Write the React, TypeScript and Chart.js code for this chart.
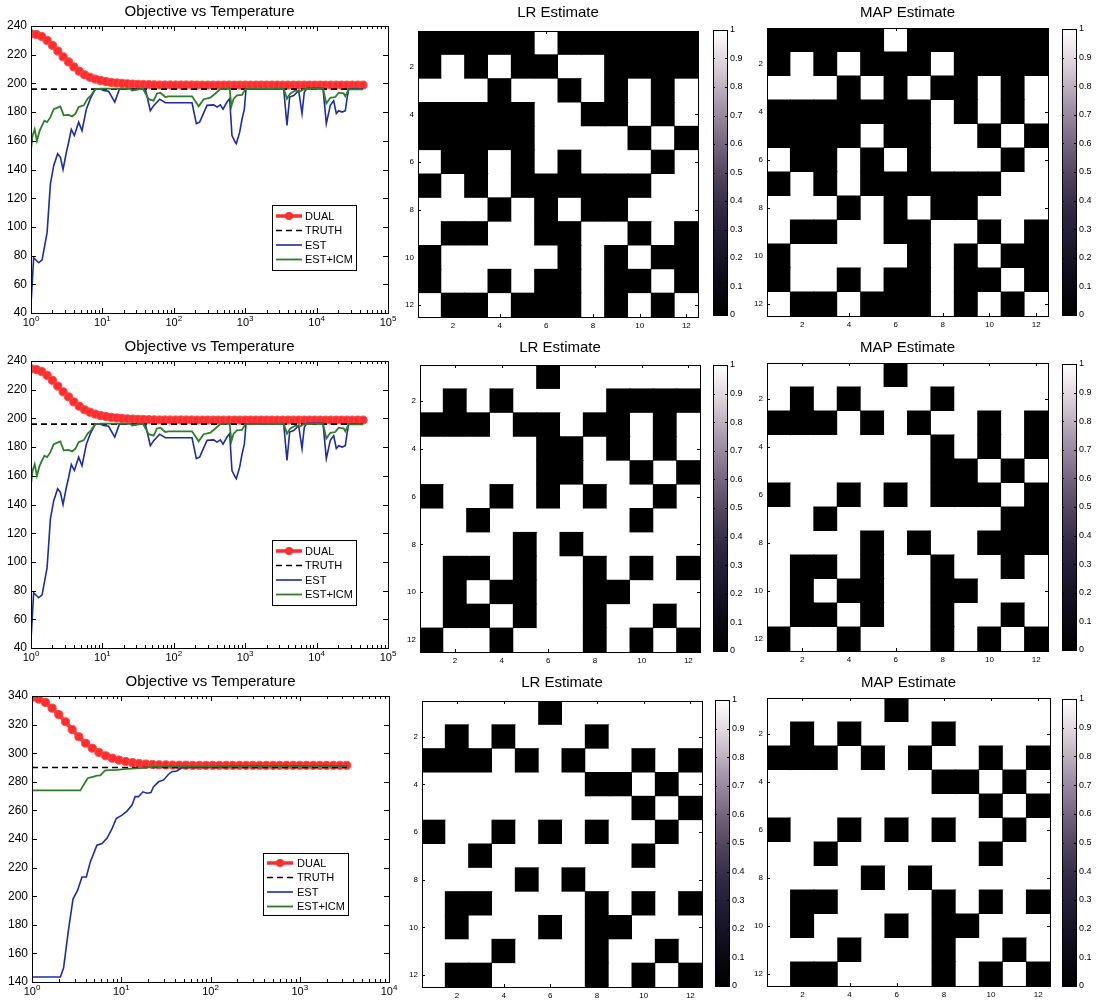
import React, { useEffect, useRef } from 'react';
import { Chart, registerables } from 'chart.js';

Chart.register(...registerables);

const FONT = "'Liberation Sans', Arial, Helvetica, sans-serif";
Chart.defaults.font.family = FONT;
Chart.defaults.color = '#000';

// ---------------- line charts (rows 1 and 2 share the same data) ----------------
const tempsA = [1, 1.189, 1.413, 1.679, 1.995, 2.371, 2.818, 3.35, 3.981, 4.732, 5.623, 6.683, 7.943, 9.441, 11.22, 13.34, 15.85, 18.84, 22.39, 26.61, 31.62, 37.58, 44.67, 53.09, 63.1, 74.99, 89.13, 105.9, 125.9, 149.6, 177.8, 211.3, 251.2, 298.5, 354.8, 421.7, 501.2, 595.7, 707.9, 841.4, 1000, 1189, 1413, 1679, 1995, 2371, 2818, 3350, 3981, 4732, 5623, 6683, 7943, 9441, 11220, 13340, 15850, 18840, 22390, 26610, 31620, 37580, 44670];
const dualA = [234.5, 234, 232.7, 230, 226.5, 222.5, 218.5, 215, 211.5, 208.5, 206, 204.3, 203, 202, 201.3, 200.7, 200.3, 200, 199.7, 199.5, 199.3, 199.2, 199.1, 199, 198.9, 198.9, 198.9, 198.9, 198.9, 198.9, 198.9, 198.8, 198.8, 198.8, 198.8, 198.8, 198.8, 198.8, 198.8, 198.8, 198.8, 198.8, 198.8, 198.8, 198.8, 198.8, 198.8, 198.8, 198.8, 198.8, 198.8, 198.8, 198.8, 198.8, 198.8, 198.8, 198.8, 198.8, 198.8, 198.8, 198.8, 198.8, 198.8];
const truthA = 196;
const estTA = [1, 1.09, 1.28, 1.43, 1.68, 1.87, 2.08, 2.36, 2.58, 2.81, 3.13, 3.37, 3.67, 4.05, 4.65, 5.18, 5.96, 6.78, 7.96, 9.35, 10.4, 12.2, 14.9, 17.3, 22.1, 24.6, 26.0, 34.0, 39.9, 46.9, 52.2, 63.4, 76.1, 84.8, 180, 207, 230, 292, 362, 403, 449, 489, 556, 606, 653, 728, 751, 837, 902, 973, 1026, 3459, 3847, 4196, 4773, 5610, 6250, 6730, 7340, 12300, 13680, 15560, 17340, 18880, 20370, 22690, 25250, 26670, 28120, 44670];
const estVA = [46, 78.5, 75, 77, 96, 130, 142.7, 151, 148.5, 140, 152, 159, 168, 163.7, 173, 167, 182, 189.4, 196, 196, 195, 194.5, 187, 196, 196.3, 196.3, 195.3, 196.3, 196.3, 181, 184.5, 189, 186.5, 186.5, 186.5, 172, 173, 184.7, 185, 183.5, 185, 182, 187, 189.4, 163.7, 159, 158, 166, 175, 182, 196, 196.3, 170.7, 190.5, 191.5, 195, 179, 194, 196.5, 196.5, 172, 184.7, 188, 179, 181, 180, 181, 189.4, 196, 196];
const icmTA = [1, 1.055, 1.126, 1.21, 1.32, 1.43, 1.54, 1.68, 1.87, 2.08, 2.44, 2.58, 2.87, 3.37, 3.75, 4.18, 4.65, 5.47, 6.22, 6.92, 7.96, 9.35, 24.6, 26.0, 37.0, 44.5, 52.2, 58.2, 64.8, 76.1, 84.8, 180, 223, 262, 325, 382, 449, 606, 640, 689, 768, 902, 1004, 3459, 3847, 4287, 5036, 5919, 6590, 12300, 13680, 15560, 18290, 20370, 23930, 25250, 28120, 44670];
const icmVA = [154, 163.7, 168, 160, 167, 170.7, 174, 173, 176.5, 182, 183.5, 184, 177.7, 178, 177, 178.8, 183.5, 184.7, 189.4, 191.7, 196, 196.3, 196.3, 195, 196.3, 189, 188, 193, 193.5, 190.5, 191, 191, 184, 189, 190, 193, 196, 196.3, 184, 189.4, 191.7, 192, 196, 196.3, 189.4, 193, 195, 194.5, 196, 196.3, 186, 190, 190.5, 193.5, 193, 191, 195.8, 195.8];
const yTicksA = [40, 60, 80, 100, 120, 140, 160, 180, 200, 220, 240];
const decadesA = [1, 10, 100, 1000, 10000, 100000];

// ---------------- line chart row 3 ----------------
const tempsC = [1, 1.189, 1.413, 1.679, 1.995, 2.371, 2.818, 3.35, 3.981, 4.732, 5.623, 6.683, 7.943, 9.441, 11.22, 13.34, 15.85, 18.84, 22.39, 26.61, 31.62, 37.58, 44.67, 53.09, 63.1, 74.99, 89.13, 105.9, 125.9, 149.6, 177.8, 211.3, 251.2, 298.5, 354.8, 421.7, 501.2, 595.7, 707.9, 841.4, 1000, 1189, 1413, 1679, 1995, 2371, 2818, 3350];
const dualC = [339, 337.8, 335.5, 331.5, 327, 322, 316.5, 311.5, 307, 303.5, 300.5, 298.2, 296.5, 295.2, 294.2, 293.4, 292.8, 292.4, 292.1, 291.9, 291.8, 291.7, 291.6, 291.6, 291.5, 291.5, 291.5, 291.5, 291.5, 291.5, 291.5, 291.5, 291.5, 291.5, 291.5, 291.5, 291.5, 291.5, 291.5, 291.5, 291.5, 291.5, 291.5, 291.5, 291.5, 291.5, 291.5, 291.5];
const truthC = 290;
const estTC = [1, 2.08, 2.26, 2.57, 2.88, 3.24, 3.63, 4.06, 4.5, 5.34, 6.08, 6.91, 7.86, 8.79, 10.2, 11.6, 13.2, 14.3, 15.6, 17.5, 19.4, 21.5, 23.0, 26.2, 29.8, 33.9, 36.9, 42.0, 47.8, 181, 3350];
const estVC = [143.5, 143.5, 150, 177, 198, 204, 213.4, 213.4, 224, 235.7, 236.9, 240.5, 247, 254.3, 256.7, 259.5, 263.7, 269.6, 269.6, 273, 272, 272.5, 276.6, 280, 281.3, 285.3, 287.1, 287.6, 290, 290.8, 291];
const icmTC = [1, 3.48, 4.2, 4.9, 5.34, 5.82, 6.62, 8.94, 11.6, 16.3, 23.0, 32.4, 3350];
const icmVC = [274, 274, 282.5, 283.6, 284.3, 284.5, 288, 288.4, 289.1, 289.6, 290.5, 290.8, 291];
const yTicksC = [140, 160, 180, 200, 220, 240, 260, 280, 300, 320, 340];
const decadesC = [1, 10, 100, 1000, 10000];

const legendLabels = ['DUAL', 'TRUTH', 'EST', 'EST+ICM'];

// ---------------- heat maps (1 = white, 0 = black) ----------------
const cellCols = [1, 2, 3, 4, 5, 6, 7, 8, 9, 10, 11, 12];
const heatTicks = [2, 4, 6, 8, 10, 12];

const lrGrid1 = [
  [0,0,0,0,0,1,0,0,0,0,0,0],
  [0,1,0,1,0,0,1,1,0,0,0,0],
  [1,1,1,0,1,1,0,1,0,1,0,1],
  [0,0,0,0,0,1,1,0,0,1,0,1],
  [0,0,0,0,0,1,1,1,1,0,1,0],
  [1,0,0,1,0,1,0,1,1,1,0,1],
  [0,1,0,1,0,0,0,0,0,0,1,1],
  [1,1,1,0,1,0,1,0,0,1,1,1],
  [1,0,0,1,1,0,0,1,1,0,1,0],
  [0,1,1,1,1,1,0,1,0,1,0,0],
  [0,1,1,0,1,0,0,1,0,0,1,0],
  [1,0,0,1,0,0,0,1,0,1,0,1],
];
const mapGrid1 = [
  [0,0,0,0,0,1,0,0,0,0,0,0],
  [0,1,0,1,0,0,0,1,0,0,0,0],
  [1,1,1,0,1,0,1,0,0,1,0,1],
  [0,0,0,0,0,0,0,1,0,1,0,1],
  [0,0,0,0,1,0,0,1,1,0,1,0],
  [1,0,0,1,0,1,0,1,1,1,0,1],
  [0,1,0,1,0,0,0,0,0,0,1,1],
  [1,1,1,0,1,0,1,0,0,1,1,1],
  [1,0,0,1,1,0,0,1,1,0,1,0],
  [0,1,1,1,1,1,0,1,0,1,0,0],
  [0,1,1,0,1,0,0,1,0,0,1,0],
  [1,0,0,1,0,0,0,1,0,1,0,1],
];
const lrGrid2 = [
  [1,1,1,1,1,0,1,1,1,1,1,1],
  [1,0,1,0,1,1,1,1,0,0,0,0],
  [0,0,0,1,0,0,1,0,0,1,0,1],
  [1,1,1,1,1,0,0,1,0,1,0,1],
  [1,1,1,1,1,0,0,1,1,0,1,0],
  [0,1,1,0,1,0,1,0,1,1,0,1],
  [1,1,0,1,1,1,1,1,1,0,1,1],
  [1,1,1,1,0,1,0,1,1,1,1,1],
  [1,0,0,1,0,1,1,0,1,0,1,0],
  [1,0,1,0,0,1,1,0,0,1,1,1],
  [1,0,0,1,0,1,1,0,1,1,0,1],
  [0,1,1,0,1,1,1,0,1,0,1,0],
];
const mapGrid2 = [
  [1,1,1,1,1,0,1,1,1,1,1,1],
  [1,0,1,0,1,1,1,0,1,1,1,1],
  [0,0,0,1,0,1,0,1,1,0,1,0],
  [1,1,1,1,1,1,1,0,1,0,1,0],
  [1,1,1,1,1,1,1,0,0,1,0,1],
  [0,1,1,0,1,0,1,0,0,0,1,0],
  [1,1,0,1,1,1,1,1,1,1,0,0],
  [1,1,1,1,0,1,0,1,1,0,0,0],
  [1,0,0,1,0,1,1,0,1,1,0,1],
  [1,0,1,0,0,1,1,0,0,1,1,1],
  [1,0,0,1,0,1,1,0,1,1,0,1],
  [0,1,1,0,1,1,1,0,1,0,1,0],
];
const lrGrid3 = [
  [1,1,1,1,1,0,1,1,1,1,1,1],
  [1,0,1,0,1,1,1,0,1,1,1,1],
  [0,0,0,1,0,1,0,1,1,0,1,0],
  [1,1,1,1,1,1,1,0,0,1,0,1],
  [1,1,1,1,1,1,1,1,1,0,1,0],
  [0,1,1,0,1,0,1,0,1,1,0,1],
  [1,1,0,1,1,1,1,1,1,0,1,1],
  [1,1,1,1,0,1,0,1,1,1,1,1],
  [1,0,0,1,1,1,1,0,1,0,1,0],
  [1,0,1,1,1,0,1,0,0,1,1,1],
  [1,1,1,0,1,1,1,0,1,1,0,1],
  [1,0,0,1,1,1,1,0,1,0,1,0],
];
const mapGrid3 = [
  [1,1,1,1,1,0,1,1,1,1,1,1],
  [1,0,1,0,1,1,1,0,1,1,1,1],
  [0,0,0,1,0,1,0,1,1,0,1,0],
  [1,1,1,1,1,1,1,0,0,1,0,1],
  [1,1,1,1,1,1,1,1,1,0,1,0],
  [0,1,1,0,1,0,1,0,1,1,0,1],
  [1,1,0,1,1,1,1,1,1,0,1,1],
  [1,1,1,1,0,1,0,1,1,1,1,1],
  [1,0,0,1,1,1,1,0,1,0,1,0],
  [1,0,1,1,1,0,1,0,0,1,1,1],
  [1,1,1,0,1,1,1,0,1,1,0,1],
  [1,0,0,1,1,1,1,0,1,0,1,0],
];

// ---------------- colour bar ----------------
const cbRange = [0, 1];
const cbTicks = [0, 0.1, 0.2, 0.3, 0.4, 0.5, 0.6, 0.7, 0.8, 0.9, 1];
const cbLabels = ['0', '0.1', '0.2', '0.3', '0.4', '0.5', '0.6', '0.7', '0.8', '0.9', '1'];
const cbStops: [number, string][] = [
  [0, '#000000'], [0.12, '#0c0a16'], [0.25, '#1d1930'], [0.37, '#302845'], [0.5, '#54475f'],
  [0.62, '#7c6c86'], [0.75, '#aa9caf'], [0.87, '#d9cfd7'], [1, '#ffffff'],
];

const RED = '#ff2e2e';
const BLUE = '#1f2c9c';
const GREEN = '#2f7d2c';
const BLACK = '#000000';

type Rect = { l: number; t: number; r: number; b: number };

function pad(w: number, h: number, p: Rect, leftW: number, rightW: number, bottomH: number) {
  return { left: p.l - leftW, right: w - p.r - rightW, top: p.t, bottom: h - p.b - bottomH };
}

function crisp(v: number) {
  return Math.round(v) + 0.5;
}

const baseOpts = {
  responsive: false,
  animation: false,
  events: [],
  devicePixelRatio: 1,
};

type LegendSpec = { x: number; y: number; w: number; h: number; rows: number[]; s0: number; s1: number; tx: number };

function lineFrame(title: string, decades: number[], minors: number[], yTicks: number[], lg: LegendSpec) {
  return {
    id: 'lineFrame',
    afterDraw(chart: any) {
      const { ctx, chartArea: a } = chart;
      const xs = chart.scales.x;
      const ys = chart.scales.y;
      ctx.save();
      ctx.strokeStyle = BLACK;
      ctx.lineWidth = 1;
      ctx.setLineDash([]);
      ctx.beginPath();
      minors.forEach((v) => {
        const px = crisp(xs.getPixelForValue(v));
        const len = decades.includes(v) ? 5 : 3;
        ctx.moveTo(px, a.bottom);
        ctx.lineTo(px, a.bottom - len);
        ctx.moveTo(px, a.top);
        ctx.lineTo(px, a.top + len);
      });
      yTicks.forEach((v) => {
        const py = crisp(ys.getPixelForValue(v));
        ctx.moveTo(a.left, py);
        ctx.lineTo(a.left + 5, py);
        ctx.moveTo(a.right, py);
        ctx.lineTo(a.right - 5, py);
      });
      ctx.stroke();
      ctx.strokeRect(crisp(a.left), crisp(a.top), Math.round(a.right - a.left), Math.round(a.bottom - a.top));

      // x tick labels 10^n
      ctx.fillStyle = BLACK;
      ctx.textAlign = 'left';
      ctx.textBaseline = 'alphabetic';
      decades.forEach((v) => {
        const px = xs.getPixelForValue(v);
        const e = String(Math.round(Math.log10(v)));
        ctx.font = `11px ${FONT}`;
        const w1 = ctx.measureText('10').width;
        ctx.font = `8px ${FONT}`;
        const w2 = ctx.measureText(e).width;
        const st = px - (w1 + w2) / 2;
        ctx.font = `11px ${FONT}`;
        ctx.fillText('10', st, a.bottom + 13);
        ctx.font = `8px ${FONT}`;
        ctx.fillText(e, st + w1, a.bottom + 8);
      });

      // title
      ctx.font = `15px ${FONT}`;
      ctx.textAlign = 'center';
      ctx.textBaseline = 'middle';
      ctx.fillText(title, (a.left + a.right) / 2, 12);

      // legend
      ctx.fillStyle = '#ffffff';
      ctx.fillRect(lg.x, lg.y, lg.w, lg.h);
      ctx.strokeStyle = BLACK;
      ctx.lineWidth = 1;
      ctx.strokeRect(crisp(lg.x), crisp(lg.y), lg.w, lg.h);
      const styles = [
        { c: RED, w: 3.5, dash: [] as number[], m: true },
        { c: BLACK, w: 1.6, dash: [6, 4], m: false },
        { c: BLUE, w: 1.6, dash: [], m: false },
        { c: GREEN, w: 1.8, dash: [], m: false },
      ];
      legendLabels.forEach((lab, i) => {
        const y = lg.rows[i];
        const st = styles[i];
        ctx.strokeStyle = st.c;
        ctx.lineWidth = st.w;
        ctx.setLineDash(st.dash);
        ctx.beginPath();
        ctx.moveTo(lg.s0, y);
        ctx.lineTo(lg.s1, y);
        ctx.stroke();
        ctx.setLineDash([]);
        if (st.m) {
          ctx.fillStyle = st.c;
          ctx.beginPath();
          ctx.arc((lg.s0 + lg.s1) / 2, y, 4, 0, Math.PI * 2);
          ctx.fill();
        }
        ctx.fillStyle = BLACK;
        ctx.font = `11px ${FONT}`;
        ctx.textAlign = 'left';
        ctx.textBaseline = 'middle';
        ctx.fillText(lab, lg.tx, y + 0.5);
      });
      ctx.restore();
    },
  };
}

function lineConfig(o: {
  w: number; h: number; plot: Rect; temps: number[]; dual: number[]; truth: number;
  estT: number[]; estV: number[]; icmT: number[]; icmV: number[]; yTicks: number[]; decades: number[]; legend: LegendSpec;
}) {
  const yW = 28;
  const xH = 18;
  const minors: number[] = [];
  o.decades.forEach((d, i) => {
    if (i < o.decades.length - 1) {
      for (let m = 1; m <= 9; m++) minors.push(m * d);
    } else {
      minors.push(d);
    }
  });
  const last = o.temps.length - 1;
  return {
    type: 'line',
    data: {
      datasets: [
        {
          label: 'EST+ICM', data: o.icmT.map((t, i) => ({ x: t, y: o.icmV[i] })),
          borderColor: GREEN, borderWidth: 1.8, pointRadius: 0, tension: 0, order: 1,
        },
        {
          label: 'EST', data: o.estT.map((t, i) => ({ x: t, y: o.estV[i] })),
          borderColor: BLUE, borderWidth: 1.6, pointRadius: 0, tension: 0, order: 2,
        },
        {
          label: 'TRUTH', data: [{ x: o.temps[0], y: o.truth }, { x: o.temps[last], y: o.truth }],
          borderColor: BLACK, borderWidth: 1.6, borderDash: [6, 4], pointRadius: 0, tension: 0, order: 3,
        },
        {
          label: 'DUAL', data: o.temps.map((t, i) => ({ x: t, y: o.dual[i] })),
          borderColor: RED, borderWidth: 4, pointRadius: 4.1, pointBackgroundColor: RED,
          pointBorderColor: '#ff4a4a', pointBorderWidth: 1, tension: 0, order: 4,
        },
      ],
    },
    options: {
      ...baseOpts,
      layout: { padding: pad(o.w, o.h, o.plot, yW, 0, xH) },
      plugins: { legend: { display: false }, tooltip: { enabled: false }, title: { display: false } },
      scales: {
        x: {
          type: 'logarithmic', min: o.decades[0], max: o.decades[o.decades.length - 1],
          grid: { display: false, drawTicks: false }, border: { display: false },
          ticks: { display: false },
          afterBuildTicks: (s: any) => { s.ticks = minors.map((v) => ({ value: v })); },
          afterFit: (s: any) => { s.height = xH; },
        },
        y: {
          type: 'linear', min: o.yTicks[0], max: o.yTicks[o.yTicks.length - 1],
          grid: { display: false, drawTicks: false }, border: { display: false },
          ticks: { font: { size: 12, family: FONT }, color: BLACK, padding: 4 },
          afterBuildTicks: (s: any) => { s.ticks = o.yTicks.map((v) => ({ value: v })); },
          afterFit: (s: any) => { s.width = yW; },
        },
      },
    },
    plugins: [lineFrame('Objective vs Temperature', o.decades, minors, o.yTicks, o.legend)],
  };
}

function heatFrame(title: string, titleY: number) {
  return {
    id: 'heatFrame',
    afterDraw(chart: any) {
      const { ctx, chartArea: a } = chart;
      const xs = chart.scales.x;
      const ys = chart.scales.y;
      ctx.save();
      ctx.strokeStyle = BLACK;
      ctx.lineWidth = 1;
      ctx.beginPath();
      heatTicks.forEach((v) => {
        const px = crisp(xs.getPixelForValue(cellCols.indexOf(v)));
        ctx.moveTo(px, a.bottom);
        ctx.lineTo(px, a.bottom - 3);
        ctx.moveTo(px, a.top);
        ctx.lineTo(px, a.top + 3);
        const py = crisp(ys.getPixelForValue(v));
        ctx.moveTo(a.left, py);
        ctx.lineTo(a.left + 3, py);
        ctx.moveTo(a.right, py);
        ctx.lineTo(a.right - 3, py);
      });
      ctx.stroke();
      ctx.strokeRect(crisp(a.left), crisp(a.top), Math.round(a.right - a.left), Math.round(a.bottom - a.top));
      ctx.fillStyle = BLACK;
      ctx.font = `15px ${FONT}`;
      ctx.textAlign = 'center';
      ctx.textBaseline = 'middle';
      ctx.fillText(title, (a.left + a.right) / 2, titleY);
      ctx.restore();
    },
  };
}

function heatConfig(w: number, h: number, plot: Rect, grid: number[][], title: string) {
  const yW = 22;
  const xH = 16;
  return {
    type: 'bar',
    data: {
      labels: cellCols.map(String),
      datasets: grid.map((row, r) => ({
        data: cellCols.map(() => [cellCols[r] - 0.5, cellCols[r] + 0.5]),
        backgroundColor: row.map((v) => (v ? '#ffffff' : '#000000')),
        inflateAmount: (c: any) => (row[c.dataIndex] ? 0 : 0.5),
        borderWidth: 0,
        barPercentage: 1,
        categoryPercentage: 1,
        grouped: false,
        order: row.length + 1 - r,
      })),
    },
    options: {
      ...baseOpts,
      layout: { padding: pad(w, h, plot, yW, 0, xH) },
      plugins: { legend: { display: false }, tooltip: { enabled: false } },
      scales: {
        x: {
          type: 'category', offset: true,
          grid: { display: false, drawTicks: false }, border: { display: false },
          ticks: {
            autoSkip: false, maxRotation: 0, minRotation: 0, font: { size: 8, family: FONT }, color: BLACK, padding: 4,
            callback: (_v: any, i: number) => (heatTicks.includes(cellCols[i]) ? String(cellCols[i]) : ''),
          },
          afterFit: (s: any) => { s.height = xH; },
        },
        y: {
          type: 'linear', reverse: true, min: cellCols[0] - 0.5, max: cellCols[cellCols.length - 1] + 0.5,
          grid: { display: false, drawTicks: false }, border: { display: false },
          ticks: { font: { size: 8, family: FONT }, color: BLACK, padding: 4 },
          afterBuildTicks: (s: any) => { s.ticks = heatTicks.map((v) => ({ value: v })); },
          afterFit: (s: any) => { s.width = yW; },
        },
      },
    },
    plugins: [heatFrame(title, 13)],
  };
}

function cbarFrame() {
  return {
    id: 'cbarFrame',
    afterDraw(chart: any) {
      const { ctx, chartArea: a } = chart;
      const ys = chart.scales.y;
      ctx.save();
      ctx.strokeStyle = BLACK;
      ctx.lineWidth = 1;
      ctx.beginPath();
      cbTicks.forEach((v) => {
        const py = crisp(ys.getPixelForValue(v));
        ctx.moveTo(a.left, py);
        ctx.lineTo(a.left + 2, py);
        ctx.moveTo(a.right, py);
        ctx.lineTo(a.right - 2, py);
      });
      ctx.stroke();
      ctx.strokeRect(crisp(a.left), crisp(a.top), Math.round(a.right - a.left), Math.round(a.bottom - a.top));
      ctx.restore();
    },
  };
}

function cbarConfig(w: number, h: number, plot: Rect) {
  const yW = 20;
  return {
    type: 'bar',
    data: {
      labels: ['colorbar'],
      datasets: [{
        data: [cbRange],
        backgroundColor: (c: any) => {
          const ch = c.chart;
          const a = ch.chartArea;
          if (!a) return '#000000';
          const g = ch.ctx.createLinearGradient(0, a.bottom, 0, a.top);
          cbStops.forEach(([p, col]) => g.addColorStop(p, col));
          return g;
        },
        borderWidth: 0,
        barPercentage: 1,
        categoryPercentage: 1,
      }],
    },
    options: {
      ...baseOpts,
      layout: { padding: pad(w, h, plot, 0, yW, 0) },
      plugins: { legend: { display: false }, tooltip: { enabled: false } },
      scales: {
        x: { display: false, offset: true },
        y: {
          position: 'right', type: 'linear', min: cbRange[0], max: cbRange[1],
          grid: { display: false, drawTicks: false }, border: { display: false },
          ticks: {
            font: { size: 9, family: FONT }, color: BLACK, padding: 3,
            callback: (_v: any, i: number) => cbLabels[i],
          },
          afterBuildTicks: (s: any) => { s.ticks = cbTicks.map((v) => ({ value: v })); },
          afterFit: (s: any) => { s.width = yW; },
        },
      },
    },
    plugins: [cbarFrame()],
  };
}

type Panel = { x: number; y: number; w: number; h: number; make: () => any };

const legendAB: LegendSpec = { x: 272, y: 205, w: 84, h: 65, rows: [216, 230.5, 245, 259.5], s0: 276, s1: 302, tx: 305 };
const legendC: LegendSpec = { x: 263, y: 183, w: 85, h: 62, rows: [193, 207.5, 222, 236.5], s0: 267, s1: 293, tx: 297 };

const PANELS: Panel[] = [
  // row 1
  { x: 0, y: 0, w: 400, h: 335, make: () => lineConfig({ w: 400, h: 335, plot: { l: 31, t: 26, r: 388, b: 313 }, temps: tempsA, dual: dualA, truth: truthA, estT: estTA, estV: estVA, icmT: icmTA, icmV: icmVA, yTicks: yTicksA, decades: decadesA, legend: legendAB }) },
  { x: 390, y: 0, w: 320, h: 335, make: () => heatConfig(320, 335, { l: 28, t: 31, r: 308, b: 317 }, lrGrid1, 'LR Estimate') },
  { x: 710, y: 0, w: 40, h: 335, make: () => cbarConfig(40, 335, { l: 3, t: 30, r: 17, b: 315 }) },
  { x: 740, y: 0, w: 318, h: 335, make: () => heatConfig(318, 335, { l: 27, t: 28, r: 308, b: 316 }, mapGrid1, 'MAP Estimate') },
  { x: 1058, y: 0, w: 38, h: 335, make: () => cbarConfig(38, 335, { l: 4, t: 29, r: 18, b: 315 }) },
  // row 2
  { x: 0, y: 335, w: 400, h: 335, make: () => lineConfig({ w: 400, h: 335, plot: { l: 31, t: 26, r: 388, b: 313 }, temps: tempsA, dual: dualA, truth: truthA, estT: estTA, estV: estVA, icmT: icmTA, icmV: icmVA, yTicks: yTicksA, decades: decadesA, legend: legendAB }) },
  { x: 390, y: 335, w: 320, h: 335, make: () => heatConfig(320, 335, { l: 30, t: 30, r: 310, b: 317 }, lrGrid2, 'LR Estimate') },
  { x: 710, y: 335, w: 40, h: 335, make: () => cbarConfig(40, 335, { l: 3, t: 30, r: 17, b: 316 }) },
  { x: 740, y: 335, w: 318, h: 335, make: () => heatConfig(318, 335, { l: 27, t: 28, r: 308, b: 316 }, mapGrid2, 'MAP Estimate') },
  { x: 1058, y: 335, w: 38, h: 335, make: () => cbarConfig(38, 335, { l: 4, t: 29, r: 18, b: 315 }) },
  // row 3
  { x: 0, y: 670, w: 400, h: 335, make: () => lineConfig({ w: 400, h: 335, plot: { l: 32, t: 26, r: 389, b: 312 }, temps: tempsC, dual: dualC, truth: truthC, estT: estTC, estV: estVC, icmT: icmTC, icmV: icmVC, yTicks: yTicksC, decades: decadesC, legend: legendC }) },
  { x: 390, y: 670, w: 320, h: 335, make: () => heatConfig(320, 335, { l: 32, t: 31, r: 312, b: 317 }, lrGrid3, 'LR Estimate') },
  { x: 710, y: 670, w: 40, h: 335, make: () => cbarConfig(40, 335, { l: 5, t: 30, r: 19, b: 316 }) },
  { x: 740, y: 670, w: 318, h: 335, make: () => heatConfig(318, 335, { l: 27, t: 28, r: 310, b: 316 }, mapGrid3, 'MAP Estimate') },
  { x: 1058, y: 670, w: 38, h: 335, make: () => cbarConfig(38, 335, { l: 4, t: 29, r: 18, b: 316 }) },
];

export default function App() {
  const refs = useRef<(HTMLCanvasElement | null)[]>([]);
  useEffect(() => {
    const charts = PANELS.map((p, i) => new Chart(refs.current[i] as HTMLCanvasElement, p.make()));
    return () => {
      charts.forEach((c) => c.destroy());
    };
  }, []);
  return (
    <div style={{ position: 'absolute', left: 0, top: 0, width: 1096, height: 1005, background: '#ffffff', overflow: 'hidden' }}>
      {PANELS.map((p, i) => (
        <canvas
          key={i}
          ref={(el) => { refs.current[i] = el; }}
          width={p.w}
          height={p.h}
          style={{ position: 'absolute', left: p.x, top: p.y, width: p.w, height: p.h }}
        />
      ))}
    </div>
  );
}
